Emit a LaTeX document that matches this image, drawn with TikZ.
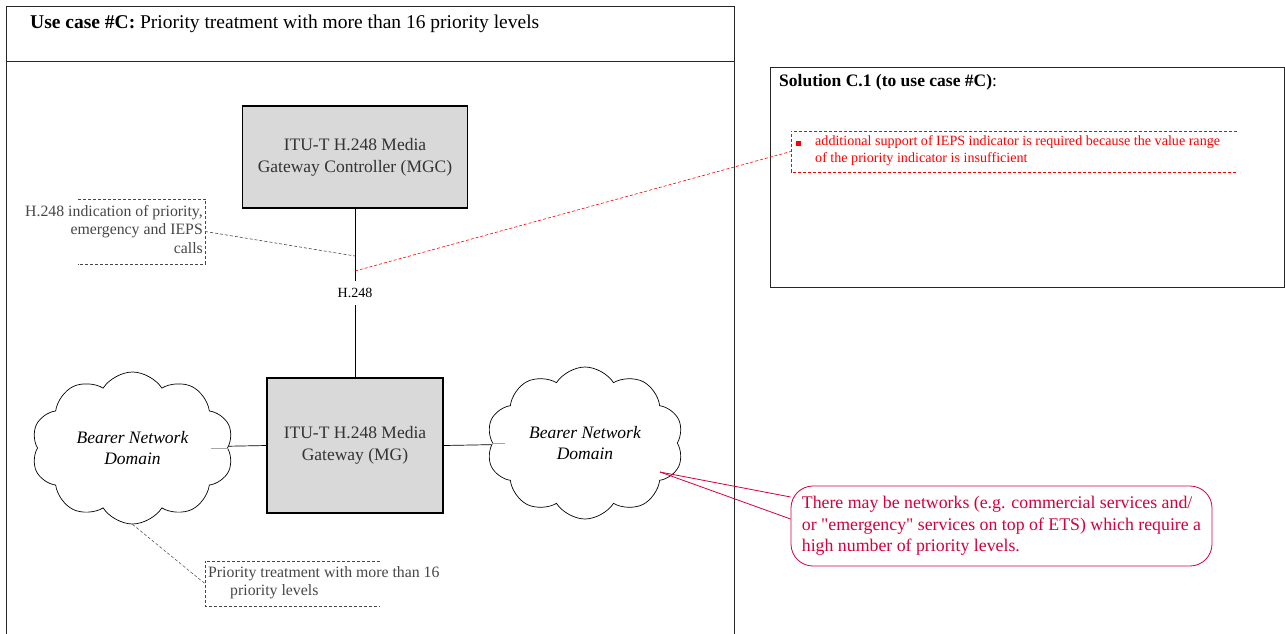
\documentclass[tikz,border=0pt]{standalone}
\usepackage{fontspec}
\setmainfont{Liberation Serif}
\usetikzlibrary{positioning, shapes.symbols, shapes.misc}
\definecolor{boxgray}{RGB}{217,217,217}
\definecolor{notegray}{RGB}{70,70,70}
\definecolor{callred}{RGB}{210,0,60}

\begin{document}
\begin{tikzpicture}[x=1pt, y=-1pt,
    frame/.style={draw=black!85, line width=0.8pt},
    gw/.style={rectangle, draw, fill=boxgray, line width=1.1pt, align=center,
      text=black!80, font=\fontsize{17.5}{22}\selectfont},
    bearercloud/.style={cloud, cloud puffs=10, cloud puff arc=115, aspect=1.3, draw,
      line width=0.7pt, inner sep=0pt, align=center, font=\itshape\fontsize{17.5}{21}\selectfont},
    note/.style={text=notegray, inner sep=0pt, font=\fontsize{15.8}{18.5}\selectfont},
    notedash/.style={draw=notegray, line width=0.6pt, dash pattern=on 3pt off 2pt},
    redbox/.style={draw=red, line width=0.6pt, dash pattern=on 3pt off 2pt},
    stub/.style={draw=black!35, line width=0.6pt},
    callout/.style={rectangle, rounded corners=22pt, draw=callred, line width=0.8pt,
      text=callred, align=left, minimum width=421pt, minimum height=80pt,
      font=\fontsize{17.8}{21.5}\selectfont},
    calloutline/.style={draw=callred, line width=0.8pt}]

  \useasboundingbox (0,0) rectangle (1285,633);

  % use case frame
  \draw[frame] (6,640) -- (6,6) -- (734,6) -- (734,640);
  \draw[frame] (6,61) -- (734,61);
  \node[anchor=base west, inner sep=0pt, font=\fontsize{19.5}{22}\selectfont] (title) at (30,28)
    {\textbf{Use case \#C:} Priority treatment with more than 16 priority levels};

  % solution frame
  \node[frame, rectangle, minimum width=514pt, minimum height=220pt] (solframe) at (1027,177) {};
  \node[anchor=base west, inner sep=0pt, font=\fontsize{17.5}{20}\selectfont] (soltitle) at (779,86)
    {\textbf{Solution C.1 (to use case \#C)}:};
  \node[minimum width=446pt, minimum height=41pt] (solbox) at (1014,151.5) {};
  \draw[redbox] (solbox.north east) -- (solbox.north west) -- (solbox.south west) -- (solbox.south east);
  \node[fill=red, minimum size=5pt, inner sep=0pt] (bullet) at (798.5,143) {};
  \node[anchor=north west, align=left, text=red, inner sep=0pt, font=\fontsize{14.1}{17}\selectfont]
    (soltext) at (815,135.5) {additional support of IEPS indicator is required because the value range\\
    of the priority indicator is insufficient};

  % gateways
  \node[gw, minimum width=225pt, minimum height=102pt] (mgc) at (355,157)
    {ITU-T H.248 Media\\Gateway Controller (MGC)};
  \node[gw, minimum width=176pt, minimum height=135pt] (mg) at (355,445.5)
    {ITU-T H.248 Media\\Gateway (MG)};
  \node[inner sep=1pt, minimum height=24pt, font=\fontsize{14}{16}\selectfont] (h248) at (355,293) {H.248};
  \coordinate (tapnote) at (355,256);
  \coordinate (tapsol) at (355,271);
  \draw[line width=0.7pt] (mgc) -- (h248);
  \draw[line width=0.7pt] (h248) -- (mg);

  % bearer domains
  \node[bearercloud, minimum width=202pt, minimum height=152pt] (leftdom) at (132.5,448) {Bearer Network\\Domain};
  \node[bearercloud, minimum width=197pt, minimum height=152pt] (rightdom) at (585,443) {Bearer Network\\Domain};
  \draw[stub] (leftdom.east) -- ++(-17,0);
  \draw[stub] (rightdom.west) -- ++(13,0);
  \draw[line width=0.7pt] (mg.west) -- (leftdom);
  \draw[line width=0.7pt] (mg.east) -- (rightdom);

  % H.248 note
  \node[note, align=right, anchor=north east] (prionote) at (203,205)
    {H.248 indication of priority,\\emergency and IEPS\\calls};
  \node[minimum width=127pt, minimum height=65pt] (priobox) at (141.5,231.5) {};
  \draw[notedash] (priobox.north west) -- (priobox.north east) -- (priobox.south east) -- (priobox.south west);
  \draw[notedash] (priobox.east) -- (tapnote);
  \draw[redbox] (tapsol) -- (solbox.west);

  % levels note
  \node[minimum width=175pt, minimum height=45pt] (levelbox) at (292.5,583.5) {};
  \draw[notedash] (levelbox.north east) -- (levelbox.north west) -- (levelbox.south west) -- (levelbox.south east);
  \node[note, align=left, anchor=north west] (levelnote) at (208,566)
    {Priority treatment with more than 16\\\hspace*{22pt}priority levels};
  \draw[notedash, line width=0.5pt] (leftdom.south) -- (levelbox.west);

  % callout
  \node[callout] (netnote) at (1001.5,526)
    {There may be networks (e.g. commercial services and/\\or \textquotedbl emergency\textquotedbl{} services on top of ETS) which require a\\high number of priority levels.};
  \coordinate (nettip) at (660,472);
  \draw[calloutline] (nettip) -- ([yshift=29pt]netnote.west);
  \draw[calloutline] (nettip) -- ([yshift=7pt]netnote.west);
\end{tikzpicture}
\end{document}
